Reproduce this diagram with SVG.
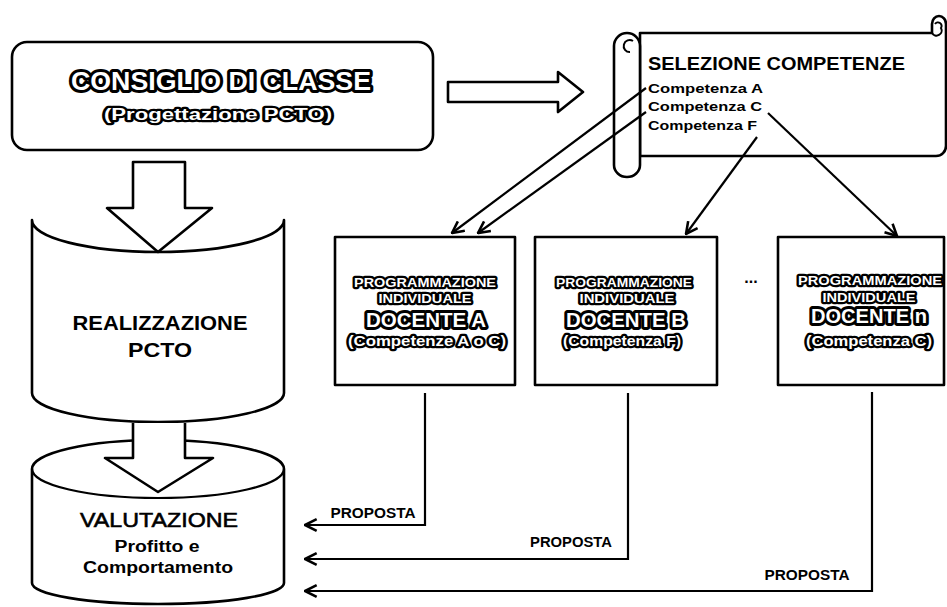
<svg xmlns="http://www.w3.org/2000/svg" width="947" height="607" viewBox="0 0 947 607">
  <style>
    .bx { fill: #fff; stroke: #000; stroke-width: 2.6; stroke-linejoin: round; }
    .thin { fill: none; stroke: #000; stroke-width: 2; }
    .ln { fill: none; stroke: #000; stroke-width: 2.2; }
    .wa { font-family: "Liberation Sans", Arial, sans-serif; font-weight: bold; fill: #fff; stroke: #000; paint-order: stroke; stroke-linejoin: round; text-anchor: middle; }
    .wa-l { stroke-width: 6; }
    .wa-s { stroke-width: 4.4; }
    .tx { font-family: "Liberation Sans", Arial, sans-serif; font-weight: bold; fill: #000; }
    .mid { text-anchor: middle; }
    .reg { font-weight: normal; stroke: #000; stroke-width: 0.6; }
  </style>
  <defs>
    <marker id="vhead" viewBox="0 0 12 12" refX="11" refY="6" markerWidth="14" markerHeight="14" markerUnits="userSpaceOnUse" orient="auto">
      <path d="M1,1 L11,6 L1,11" fill="none" stroke="#000" stroke-width="2.2"/>
    </marker>
  </defs>

  <rect width="947" height="607" fill="#fff"/>

  <!-- class council -->
  <g id="consiglio">
    <rect class="bx" x="12" y="42" width="421" height="108" rx="15" stroke-width="3"/>
    <text class="wa wa-l" x="221" y="90" font-size="25" textLength="300" lengthAdjust="spacingAndGlyphs">CONSIGLIO DI CLASSE</text>
    <text class="wa wa-s" x="218" y="120" font-size="16" textLength="228" lengthAdjust="spacingAndGlyphs">(Progettazione PCTO)</text>
  </g>

  <!-- competence selection scroll -->
  <g id="selezione">
    <path class="bx" d="M640,33 H932 V24 A7,8 0 0 1 946,24 V146 A10,10 0 0 1 936,156 H640 Z"/>
    <path class="thin" d="M932,33 A5,5 0 0 0 941,28 A3.5,3.5 0 0 0 935,24"/>
    <path class="bx" d="M614,46 A13,13 0 0 1 640,46 V165 A13,12 0 0 1 614,165 Z"/>
    <path class="thin" d="M633,41 A6,6 0 1 0 630,52"/>
    <text class="tx" x="648" y="70" font-size="18" textLength="257" lengthAdjust="spacingAndGlyphs">SELEZIONE COMPETENZE</text>
    <text class="tx" x="648" y="93" font-size="13" textLength="115" lengthAdjust="spacingAndGlyphs">Competenza A</text>
    <text class="tx" x="648" y="111" font-size="13" textLength="114" lengthAdjust="spacingAndGlyphs">Competenza C</text>
    <text class="tx" x="648" y="130" font-size="13" textLength="109" lengthAdjust="spacingAndGlyphs">Competenza F</text>
  </g>

  <!-- evaluation cylinder -->
  <g id="valutazione">
    <path class="bx" d="M32,469 A126,29 0 0 1 284,469 V583 A126,21 0 0 1 32,583 Z"/>
    <path class="ln" d="M32,469 A126,29 0 0 0 284,469" stroke-width="2.6"/>
    <text class="tx mid reg" x="159" y="527" font-size="21" textLength="158" lengthAdjust="spacingAndGlyphs">VALUTAZIONE</text>
    <text class="tx mid" x="157" y="552" font-size="16" textLength="85" lengthAdjust="spacingAndGlyphs">Profitto e</text>
    <text class="tx mid" x="158" y="573" font-size="16" textLength="150" lengthAdjust="spacingAndGlyphs">Comportamento</text>
  </g>

  <!-- realisation block -->
  <g id="realizzazione">
    <path class="bx" d="M32,220 A126,32 0 0 0 284,220 V393 A126,29 0 0 1 32,393 Z"/>
    <text class="tx mid" x="160" y="330" font-size="21" textLength="175" lengthAdjust="spacingAndGlyphs">REALIZZAZIONE</text>
    <text class="tx mid" x="160" y="357" font-size="21" textLength="64" lengthAdjust="spacingAndGlyphs">PCTO</text>
  </g>

  <!-- individual teacher plans -->
  <g id="docente-a">
    <rect class="bx" x="335" y="237" width="180" height="148"/>
    <text class="wa wa-s" x="425" y="287" font-size="13" textLength="142" lengthAdjust="spacingAndGlyphs">PROGRAMMAZIONE</text>
    <text class="wa wa-s" x="425" y="303" font-size="13" textLength="93" lengthAdjust="spacingAndGlyphs">INDIVIDUALE</text>
    <text class="wa wa-l" x="426" y="327" font-size="20" textLength="120" lengthAdjust="spacingAndGlyphs">DOCENTE A</text>
    <text class="wa wa-s" x="427" y="346" font-size="14" textLength="158" lengthAdjust="spacingAndGlyphs">(Competenze A o C)</text>
  </g>

  <g id="docente-b">
    <rect class="bx" x="535" y="237" width="182" height="148"/>
    <text class="wa wa-s" x="624" y="287" font-size="13" textLength="136" lengthAdjust="spacingAndGlyphs">PROGRAMMAZIONE</text>
    <text class="wa wa-s" x="627" y="303" font-size="13" textLength="95" lengthAdjust="spacingAndGlyphs">INDIVIDUALE</text>
    <text class="wa wa-l" x="626" y="327" font-size="20" textLength="120" lengthAdjust="spacingAndGlyphs">DOCENTE B</text>
    <text class="wa wa-s" x="622" y="346" font-size="14" textLength="118" lengthAdjust="spacingAndGlyphs">(Competenza F)</text>
  </g>

  <g id="ellipsis">
    <text class="tx mid" x="751" y="283" font-size="16">...</text>
  </g>

  <g id="docente-n">
    <rect class="bx" x="778" y="237" width="166" height="148"/>
    <text class="wa wa-s" x="870" y="285" font-size="13" textLength="144" lengthAdjust="spacingAndGlyphs">PROGRAMMAZIONE</text>
    <text class="wa wa-s" x="869" y="302" font-size="13" textLength="93" lengthAdjust="spacingAndGlyphs">INDIVIDUALE</text>
    <text class="wa wa-l" x="869" y="323" font-size="20" textLength="116" lengthAdjust="spacingAndGlyphs">DOCENTE n</text>
    <text class="wa wa-s" x="869" y="346" font-size="14" textLength="126" lengthAdjust="spacingAndGlyphs">(Competenza C)</text>
  </g>

  <!-- connectors -->
  <g id="connectors">
    <!-- block arrows -->
    <polygon class="bx" points="133,162 185,162 185,208 212,208 158,252 107,208 133,208"/>
    <path class="bx" d="M133,423 V458 H105 L158,492 L213,458 H185 V423"/>
    <polygon class="bx" points="448,82 558,82 558,72 583,92 558,112 558,102 448,102"/>

    <!-- competences to teachers -->
    <path class="ln" d="M646,88 L452,233" marker-end="url(#vhead)"/>
    <path class="ln" d="M646,112 L478,233" marker-end="url(#vhead)"/>
    <path class="ln" d="M757,137 L686,234" marker-end="url(#vhead)"/>
    <path class="ln" d="M768,113 L897,236" marker-end="url(#vhead)"/>

    <!-- proposals back to evaluation -->
    <path class="ln" d="M425,393 V525 H305" marker-end="url(#vhead)"/>
    <path class="ln" d="M628,393 V559 H305" marker-end="url(#vhead)"/>
    <path class="ln" d="M872,392 V591 H305" marker-end="url(#vhead)"/>
    <text class="tx mid" x="373" y="518" font-size="14" textLength="85" lengthAdjust="spacingAndGlyphs">PROPOSTA</text>
    <text class="tx mid" x="571" y="547" font-size="14" textLength="82" lengthAdjust="spacingAndGlyphs">PROPOSTA</text>
    <text class="tx mid" x="807" y="580" font-size="14" textLength="85" lengthAdjust="spacingAndGlyphs">PROPOSTA</text>
  </g>
</svg>
